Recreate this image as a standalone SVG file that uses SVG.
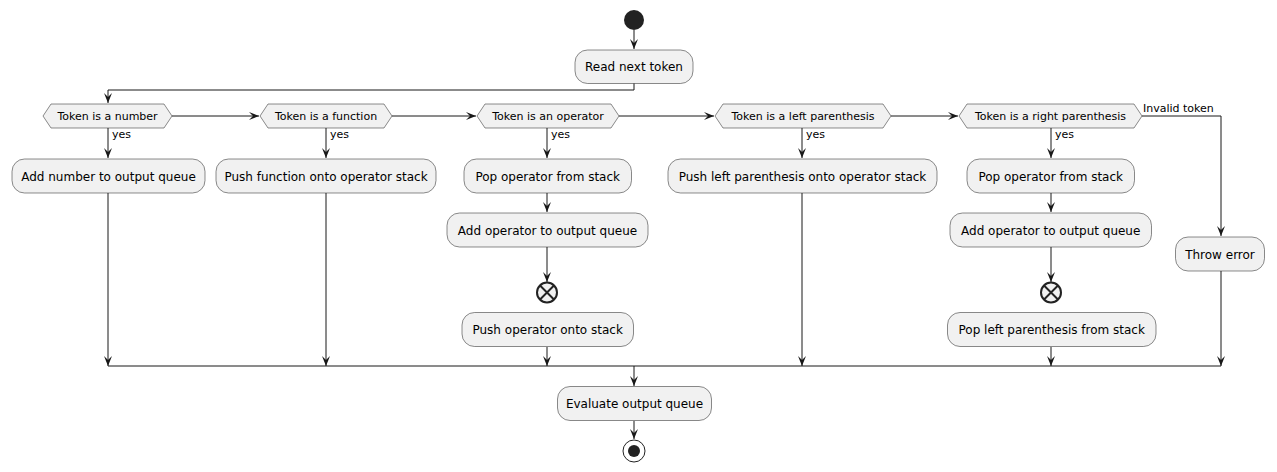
<svg xmlns="http://www.w3.org/2000/svg" width="1277" height="472" viewBox="0 0 1277 472">
<style>
.act{fill:#F1F1F1;stroke:#181818;stroke-width:0.5}
.t{font-family:"DejaVu Sans",sans-serif;font-size:12px;fill:#000;text-anchor:middle}
.d{font-family:"DejaVu Sans",sans-serif;font-size:11px;fill:#000;text-anchor:middle}
.l{font-family:"DejaVu Sans",sans-serif;font-size:11px;fill:#000}
.ln{fill:none;stroke:#181818;stroke-width:1}
</style>
<defs>
<marker id="ah" markerWidth="10" markerHeight="10" refX="10" refY="5" orient="auto" markerUnits="userSpaceOnUse" viewBox="0 0 10 10">
<path d="M0,1 L10,5 L0,9 L4,5 Z" fill="#181818"/>
</marker>
</defs>
<rect width="1277" height="472" fill="#FFFFFF"/>
<g id="connectors">
<path class="ln" d="M634,30 V49" marker-end="url(#ah)"/>
<path class="ln" d="M634,83 V90 H108 V103" marker-end="url(#ah)"/>
<path class="ln" d="M172,116 H259" marker-end="url(#ah)"/>
<path class="ln" d="M392,116 H476" marker-end="url(#ah)"/>
<path class="ln" d="M619,116 H714" marker-end="url(#ah)"/>
<path class="ln" d="M891,116 H958" marker-end="url(#ah)"/>
<path class="ln" d="M1142,116 H1221 V236" marker-end="url(#ah)"/>
<path class="ln" d="M108,128 V158" marker-end="url(#ah)"/>
<path class="ln" d="M326,128 V158" marker-end="url(#ah)"/>
<path class="ln" d="M547,128 V158" marker-end="url(#ah)"/>
<path class="ln" d="M802,128 V158" marker-end="url(#ah)"/>
<path class="ln" d="M1051,128 V158" marker-end="url(#ah)"/>
<path class="ln" d="M547,193 V212" marker-end="url(#ah)"/>
<path class="ln" d="M1051,193 V212" marker-end="url(#ah)"/>
<path class="ln" d="M547,247 V282" marker-end="url(#ah)"/>
<path class="ln" d="M1051,247 V282" marker-end="url(#ah)"/>
<path class="ln" d="M108,193 V366" marker-end="url(#ah)"/>
<path class="ln" d="M326,193 V366" marker-end="url(#ah)"/>
<path class="ln" d="M547,347 V366" marker-end="url(#ah)"/>
<path class="ln" d="M802,193 V366" marker-end="url(#ah)"/>
<path class="ln" d="M1051,347 V366" marker-end="url(#ah)"/>
<path class="ln" d="M1221,271 V366" marker-end="url(#ah)"/>
<path class="ln" d="M108,366 H1221"/>
<path class="ln" d="M634,366 V386" marker-end="url(#ah)"/>
<path class="ln" d="M634,421 V439" marker-end="url(#ah)"/>
<text class="l" x="112" y="138">yes</text>
<text class="l" x="330" y="138">yes</text>
<text class="l" x="551" y="138">yes</text>
<text class="l" x="806" y="138">yes</text>
<text class="l" x="1055" y="138">yes</text>
<text class="l" x="1143" y="112">Invalid token</text>
</g>
<g id="start"><circle cx="634" cy="20" r="10" fill="#222222"/></g>
<g id="read"><rect class="act" x="575" y="50" width="118" height="33.5" rx="12.5"/><text class="t" x="634" y="71">Read next token</text></g>
<g id="d1"><polygon class="act" points="43,116 51,104 164,104 172,116 164,128 51,128"/><text class="d" x="107.5" y="120">Token is a number</text></g>
<g id="d2"><polygon class="act" points="260,116 268,104 384,104 392,116 384,128 268,128"/><text class="d" x="326" y="120">Token is a function</text></g>
<g id="d3"><polygon class="act" points="477,116 485,104 611,104 619,116 611,128 485,128"/><text class="d" x="548" y="120">Token is an operator</text></g>
<g id="d4"><polygon class="act" points="715,116 723,104 883,104 891,116 883,128 723,128"/><text class="d" x="803" y="120">Token is a left parenthesis</text></g>
<g id="d5"><polygon class="act" points="959,116 967,104 1134,104 1142,116 1134,128 967,128"/><text class="d" x="1050.5" y="120">Token is a right parenthesis</text></g>
<g id="a1"><rect class="act" x="12" y="159" width="193" height="34" rx="12.5"/><text class="t" x="108.5" y="181">Add number to output queue</text></g>
<g id="a2"><rect class="act" x="216" y="159" width="220" height="34" rx="12.5"/><text class="t" x="326" y="181">Push function onto operator stack</text></g>
<g id="a3"><rect class="act" x="464" y="159" width="167.5" height="34" rx="12.5"/><text class="t" x="547.7" y="181">Pop operator from stack</text></g>
<g id="a4"><rect class="act" x="668" y="159" width="269" height="34" rx="12.5"/><text class="t" x="802.5" y="181">Push left parenthesis onto operator stack</text></g>
<g id="a5"><rect class="act" x="967" y="159" width="167.5" height="34" rx="12.5"/><text class="t" x="1050.7" y="181">Pop operator from stack</text></g>
<g id="a6"><rect class="act" x="447" y="213" width="201" height="34" rx="12.5"/><text class="t" x="547.5" y="235">Add operator to output queue</text></g>
<g id="a7"><rect class="act" x="950" y="213" width="201.5" height="34" rx="12.5"/><text class="t" x="1050.7" y="235">Add operator to output queue</text></g>
<g id="err"><rect class="act" x="1175.5" y="237" width="89" height="34" rx="12.5"/><text class="t" x="1220" y="259">Throw error</text></g>
<g id="x1"><circle cx="547" cy="292.5" r="10" fill="#F1F1F1" stroke="#222222" stroke-width="2"/><path d="M540,285.5 L554,299.5 M554,285.5 L540,299.5" stroke="#222222" stroke-width="2"/></g>
<g id="x2"><circle cx="1051" cy="292.5" r="10" fill="#F1F1F1" stroke="#222222" stroke-width="2"/><path d="M1044,285.5 L1058,299.5 M1058,285.5 L1044,299.5" stroke="#222222" stroke-width="2"/></g>
<g id="a8"><rect class="act" x="462" y="312.5" width="171.5" height="34" rx="12.5"/><text class="t" x="547.7" y="334">Push operator onto stack</text></g>
<g id="a9"><rect class="act" x="947.5" y="312.5" width="208.5" height="34" rx="12.5"/><text class="t" x="1051.7" y="334">Pop left parenthesis from stack</text></g>
<g id="eval"><rect class="act" x="557.5" y="386.5" width="154" height="34" rx="12.5"/><text class="t" x="634.5" y="408">Evaluate output queue</text></g>
<g id="end"><circle cx="634" cy="451" r="11" fill="none" stroke="#222222" stroke-width="1"/><circle cx="634" cy="451" r="6" fill="#222222"/></g>
</svg>
